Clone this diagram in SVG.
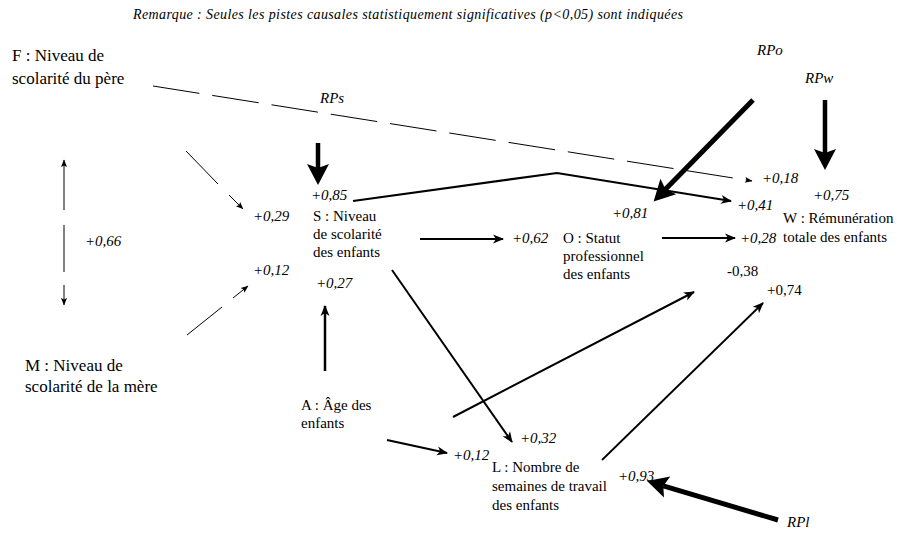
<svg xmlns="http://www.w3.org/2000/svg" width="897" height="534" viewBox="0 0 897 534">
<style>
text{font-family:"Liberation Serif","Times New Roman",serif;font-size:15px;fill:#000}
.big{font-size:17px}
.it{font-style:italic}
.note{font-size:14px;font-style:italic}
.thin{stroke:#000;stroke-width:1;fill:none}
.med{stroke:#000;stroke-width:2.2;fill:none}
.thick{stroke:#000;stroke-width:5;fill:none}
</style>
<defs>
<marker id="mThin" markerUnits="userSpaceOnUse" markerWidth="10" markerHeight="8" viewBox="0 -4 10 8" refX="7" refY="0" orient="auto" overflow="visible"><path d="M0,-3 L7.5,0 L0,3 L1.5,0 z" fill="#000"/></marker>
<marker id="mMed" markerUnits="userSpaceOnUse" markerWidth="12" markerHeight="10" viewBox="0 -5 12 10" refX="10" refY="0" orient="auto" overflow="visible"><path d="M0,-4.5 L11,0 L0,4.5 L3,0 z" fill="#000"/></marker>
<marker id="mBig" markerUnits="userSpaceOnUse" markerWidth="24" markerHeight="24" viewBox="0 -12 24 24" refX="4" refY="0" orient="auto" overflow="visible"><path d="M0,-11 L21,0 L0,11 L4,0 z" fill="#000"/></marker>
</defs>

<text class="note" x="133" y="19" textLength="550">Remarque : Seules les pistes causales statistiquement significatives (p&lt;0,05) sont indiquées</text>

<g id="connectors">
<path class="thin" d="M153,86 L752,181" stroke-dasharray="47 13" marker-end="url(#mThin)"/>
<path class="thin" d="M186,151 L218,184"/>
<path class="thin" d="M229,195 L243,209" marker-end="url(#mThin)"/>
<path class="thin" d="M187,335 L222,307"/>
<path class="thin" d="M233,298 L248,286" marker-end="url(#mThin)"/>
<path class="thin" d="M64,210 L64,160" marker-end="url(#mThin)"/>
<path class="thin" d="M64,225 L64,272"/>
<path class="thin" d="M64,285 L64,305" marker-end="url(#mThin)"/>
<path class="thick" style="stroke-width:4.5" d="M318,143 L318,168" marker-end="url(#mBig)"/>
<path class="thick" style="stroke-width:4.5" d="M825,100 L825,153" marker-end="url(#mBig)"/>
<path class="thick" d="M753,100 L665.5,189.3" marker-end="url(#mBig)"/>
<path class="thick" d="M778,520 L663.3,485.9" marker-end="url(#mBig)"/>
<path class="med" d="M353,201 L557,173 L731,201" marker-end="url(#mMed)"/>
<path class="med" d="M420,239 L503,239" marker-end="url(#mMed)"/>
<path class="med" d="M662,238 L735,238" marker-end="url(#mMed)"/>
<path class="med" style="stroke-width:2" d="M392,270 L512,442" marker-end="url(#mMed)"/>
<path class="med" style="stroke-width:2.5" d="M325,371 L325,306" marker-end="url(#mMed)"/>
<path class="med" d="M387,440 L447,453" marker-end="url(#mMed)"/>
<path class="med" style="stroke-width:2" d="M453,417 L694,292" marker-end="url(#mMed)"/>
<path class="med" style="stroke-width:1.8" d="M602,460 L763,303" marker-end="url(#mMed)"/>
</g>

<g id="F"><text class="big" x="12" y="61">F : Niveau de</text><text class="big" x="12" y="84">scolarité du père</text></g>
<g id="M"><text class="big" x="25" y="371">M : Niveau de</text><text class="big" x="25" y="392">scolarité de la mère</text></g>
<g id="S"><text x="313" y="221">S : Niveau</text><text x="313" y="239">de scolarité</text><text x="313" y="257">des enfants</text></g>
<g id="A"><text x="301" y="410">A : Âge des</text><text x="301" y="428">enfants</text></g>
<g id="O"><text x="563" y="243">O : Statut</text><text x="563" y="261">professionnel</text><text x="563" y="279">des enfants</text></g>
<g id="W"><text x="783" y="223">W : Rémunération</text><text x="783" y="242">totale des enfants</text></g>
<g id="L"><text x="492" y="472">L : Nombre de</text><text x="492" y="491">semaines de travail</text><text x="492" y="510">des enfants</text></g>
<g id="RPs"><text class="it" x="320" y="103">RPs</text></g>
<g id="RPo"><text class="it" x="757" y="55">RPo</text></g>
<g id="RPw"><text class="it" x="805" y="83">RPw</text></g>
<g id="RPl"><text class="it" x="787" y="527">RPl</text></g>

<g id="coefficients">
<text class="it" x="311" y="200">+0,85</text>
<text class="it" x="253" y="221">+0,29</text>
<text class="it" x="253" y="275">+0,12</text>
<text class="it" x="316" y="288">+0,27</text>
<text class="it" x="85" y="246">+0,66</text>
<text class="it" x="512" y="243">+0,62</text>
<text class="it" x="612" y="218">+0,81</text>
<text class="it" x="762" y="183">+0,18</text>
<text class="it" x="737" y="210">+0,41</text>
<text class="it" x="813" y="200">+0,75</text>
<text class="it" x="740" y="243">+0,28</text>
<text x="727" y="276">-0,38</text>
<text x="767" y="295">+0,74</text>
<text class="it" x="520" y="443">+0,32</text>
<text class="it" x="453" y="460">+0,12</text>
<text class="it" x="618" y="481">+0,93</text>
</g>
</svg>
